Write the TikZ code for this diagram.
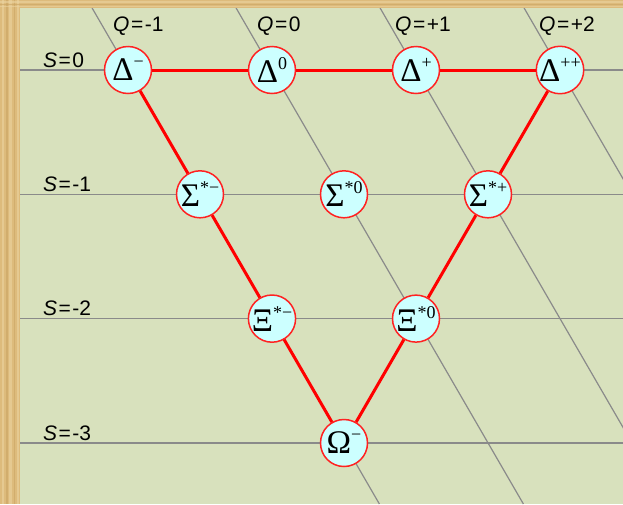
\documentclass[tikz,border=0pt]{standalone}
\usepackage{fontspec}
\setmainfont{Liberation Serif}
\newfontfamily\lblfont{Liberation Sans}
\definecolor{bggreen}{HTML}{D8E1BD}
\definecolor{tanbase}{HTML}{DDBB7C}
\definecolor{tanlight}{HTML}{EBD3A0}
\definecolor{tandark}{HTML}{C9A463}
\definecolor{gridgray}{HTML}{8A8A8A}
\definecolor{nodefill}{HTML}{CCFFFF}
\definecolor{nodered}{HTML}{FF2222}
\newcommand{\hsup}[1]{\raisebox{13pt}{\fontsize{18}{18}\selectfont #1}}
\begin{document}
\begin{tikzpicture}[x=1pt,y=-1pt,
  slant/.style={draw=gridgray, line width=1.2pt},
  hgrid/.style={draw=gridgray, line width=1.6pt},
  link/.style={draw=red, line width=3pt},
  particle/.style={circle, draw=nodered, line width=1.5pt, fill=nodefill,
    minimum size=47pt, inner sep=0pt, font=\fontsize{33}{33}\selectfont},
  qlabel/.style={anchor=base west, inner sep=0pt, font=\lblfont\fontsize{21}{21}\selectfont}]
% background
\useasboundingbox (0,0) rectangle (623,504);
\fill[tanbase] (0,0) rectangle (623,504);
\foreach \xx/\ww/\cc in {2/2/tanlight,6/1.5/tandark,9/3/tanlight,14/1/tandark,17/2/tanlight}
  \fill[\cc, opacity=0.6] (\xx,0) rectangle ++(\ww,504);
\foreach \yy/\hh/\cc in {1/1.5/tanlight,3.5/1/tandark,5.5/1.5/tanlight}
  \fill[\cc, opacity=0.6] (0,\yy) rectangle ++(623,\hh);
\fill[bggreen] (20,8) rectangle (623,504);
% slanted Q lines
\begin{scope}
  \clip (20,8) rectangle (623,504);
  \foreach \x in {128,272,416,560}
    \draw[slant] (\x-35.9,8) -- (\x+251.4,504);
\end{scope}
% horizontal S lines
\foreach \y in {70,194.3,318.6,443}
  \draw[hgrid] (20,\y) -- (623,\y);
% particles
\node[particle] (dm) at (128,70) {Δ\hsup{−}};
\node[particle] (d0) at (272,70) {Δ\hsup{0}};
\node[particle] (dp) at (416,70) {Δ\hsup{+}};
\node[particle] (dpp) at (560,70) {Δ\hsup{++}};
\node[particle] (sm) at (200,194.3) {Σ\hsup{*−}};
\node[particle] (s0) at (344,194.3) {Σ\hsup{*0}};
\node[particle] (sp) at (488,194.3) {Σ\hsup{*+}};
\node[particle] (xm) at (272,318.6) {Ξ\hsup{*−}};
\node[particle] (x0) at (416,318.6) {Ξ\hsup{*0}};
\node[particle] (om) at (344,443) {Ω\hsup{−}};
% red edges
\draw[link] (dm) -- (d0);
\draw[link] (d0) -- (dp);
\draw[link] (dp) -- (dpp);
\draw[link] (dm) -- (sm);
\draw[link] (sm) -- (xm);
\draw[link] (xm) -- (om);
\draw[link] (dpp) -- (sp);
\draw[link] (sp) -- (x0);
\draw[link] (x0) -- (om);
% labels
\node[qlabel] (lq1) at (113,31) {\textit{Q}\kern1.5pt=\kern1.5pt-1};
\node[qlabel] (lq2) at (257,31) {\textit{Q}\kern1.5pt=\kern1.5pt0};
\node[qlabel] (lq3) at (395,31) {\textit{Q}\kern1.5pt=\kern1.5pt+1};
\node[qlabel] (lq4) at (539,31) {\textit{Q}\kern1.5pt=\kern1.5pt+2};
\node[qlabel] (ls0) at (43,67) {\textit{S}\kern1.5pt=\kern1.5pt0};
\node[qlabel] (ls1) at (43,191) {\textit{S}\kern1.5pt=\kern1.5pt-1};
\node[qlabel] (ls2) at (43,315.5) {\textit{S}\kern1.5pt=\kern1.5pt-2};
\node[qlabel] (ls3) at (43,440) {\textit{S}\kern1.5pt=\kern1.5pt-3};
\end{tikzpicture}
\end{document}
